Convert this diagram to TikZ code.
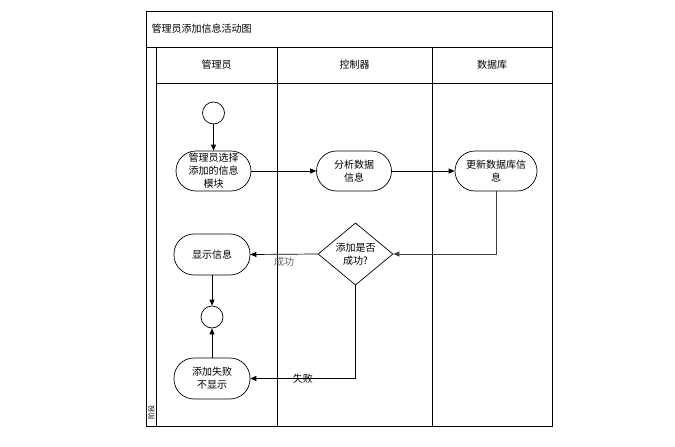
\documentclass[tikz,border=0pt]{standalone}
\usepackage{fontspec}
\setmainfont{Noto Sans CJK SC}
\usetikzlibrary{arrows.meta,shapes.geometric}
\tikzset{
  frame/.style={draw=black,line width=0.9pt},
  act/.style={draw=black,line width=0.7pt,rounded corners=20pt,minimum width=75pt,minimum height=40pt,inner sep=0pt,align=center,font=\fontsize{10}{13}\selectfont},
  dec/.style={draw=black,line width=0.7pt,diamond,minimum width=75pt,minimum height=58pt,inner sep=0pt,align=center,font=\fontsize{10}{13}\selectfont},
  dot/.style={draw=black,line width=0.7pt,circle,minimum size=22pt,inner sep=0pt},
  conn/.style={draw=black,line width=0.7pt,-{Triangle[length=6pt,width=5pt]}},
  lbl/.style={font=\fontsize{10}{12}\selectfont,inner sep=1pt},
  hdr/.style={font=\fontsize{10}{12}\selectfont}
}
\begin{document}
\begin{tikzpicture}[x=1pt,y=-1pt]
\useasboundingbox (0,0) rectangle (675,447);
\fill[white] (0,0) rectangle (675,447);
% frame
\draw[frame] (146,11) rectangle (552,426);
\draw[frame] (146,47) -- (552,47);
\draw[frame] (156,47) -- (156,426);
\draw[frame] (156,83) -- (552,83);
\draw[frame] (277,47) -- (277,426);
\draw[frame] (432,47) -- (432,426);
\node[hdr,anchor=west] (title) at (148,29) {管理员添加信息活动图};
\node[hdr] (h1) at (216.5,65) {管理员};
\node[hdr] (h2) at (354.5,65) {控制器};
\node[hdr] (h3) at (492,65) {数据库};
\node[rotate=90,font=\fontsize{7}{8}\selectfont,inner sep=0pt] (stage) at (151.5,412) {阶段};
% nodes
\node[dot] (start) at (213.5,113) {};
\node[act] (a1) at (213.5,171) {管理员选择\\添加的信息\\模块};
\node[act] (a2) at (354,171) {分析数据\\信息};
\node[act,minimum width=82pt] (a3) at (496,171) {更新数据库信\\息};
\node[dec] (d) at (355.5,254) {添加是否\\成功?};
\node[act,minimum width=76pt,minimum height=41pt] (show) at (212,254.5) {显示信息};
\node[dot] (end) at (212,317) {};
\node[act,minimum width=76pt,minimum height=41pt] (fail) at (212,378.5) {添加失败\\不显示};
% connectors
\draw[conn] (start) -- (a1);
\draw[conn] (a1) -- (a2);
\draw[conn] (a2) -- (a3);
\draw[conn,draw=black!75,line width=1pt] (a3.south) |- (d.east);
\draw[conn] (d.west) -- node[lbl,pos=0.5,below=2pt,text=black!60] (ok) {成功} (show.east);
\draw[conn] (d.south) |- node[lbl,pos=0.75,inner sep=0pt] (no) {失败} (fail.east);
\draw[conn] (show) -- (end);
\draw[conn] (fail) -- (end);
\end{tikzpicture}
\end{document}
